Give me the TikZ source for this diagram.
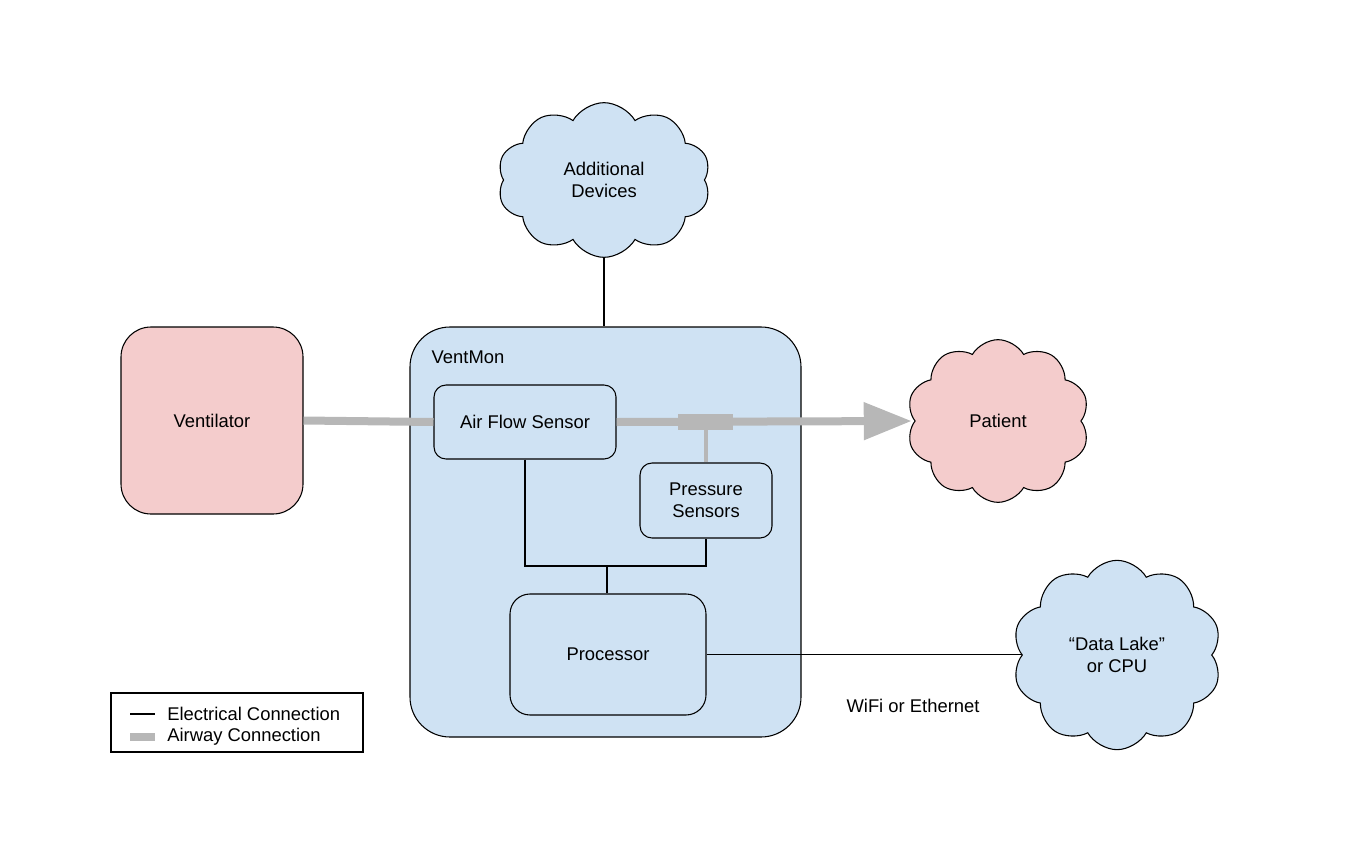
\documentclass[tikz,border=0pt]{standalone}
\usepackage{fontspec}
\setmainfont{Liberation Sans}
\usetikzlibrary{shapes.symbols,arrows.meta}
\definecolor{lblue}{HTML}{CFE2F3}
\definecolor{lpink}{HTML}{F4CCCC}
\definecolor{agray}{HTML}{B7B7B7}
\tikzset{
  box/.style={draw=black, line width=0.8pt, inner sep=0pt, align=center},
  cloudbox/.style={cloud, cloud puffs=10, cloud puff arc=120, cloud ignores aspect, draw=black, line width=0.8pt, inner sep=0pt, align=center},
  elec/.style={draw=black, line width=1.6pt},
  thinelec/.style={draw=black, line width=0.8pt},
  airway/.style={draw=agray, line width=6pt},
  every node/.style={font=\fontsize{13.8}{16.5}\selectfont}
}
\begin{document}
\begin{tikzpicture}[x=0.75pt,y=-0.75pt]
\useasboundingbox (0,0) rectangle (1351,849);
% clouds
\node[cloudbox, fill=lblue, minimum width=160pt, minimum height=116pt] (adddev) at (604,180) {Additional\\Devices};
\node[cloudbox, fill=lpink, minimum width=137pt, minimum height=122pt] (patient) at (998,421) {Patient};
\node[cloudbox, fill=lblue, minimum width=157pt, minimum height=142pt] (lake) at (1117,655) {``Data Lake''\\or CPU};
% boxes
\node[box, fill=lpink, rounded corners=22.5pt, minimum width=136.5pt, minimum height=140.25pt] (vent) at (212,420.5) {Ventilator};
\node[box, fill=lblue, rounded corners=30pt, minimum width=293.25pt, minimum height=307.5pt] (vm) at (605.5,532) {};
\node[anchor=west] (vmlabel) at (427,357) {VentMon};
\node[box, fill=lblue, rounded corners=9pt, minimum width=136.5pt, minimum height=55.5pt] (afs) at (525,422) {Air Flow Sensor};
\node[box, fill=lblue, rounded corners=9pt, minimum width=99pt, minimum height=56.25pt] (ps) at (706,500.5) {Pressure\\Sensors};
\node[box, fill=lblue, rounded corners=15pt, minimum width=147pt, minimum height=90.75pt] (proc) at (608,654.5) {Processor};
% connections
\draw[thinelec] (adddev.south) -- (adddev.south |- vm.north);
\draw[airway] (vent.east) -- (afs.west);
\draw[airway, shorten >=2pt, -{Triangle[length=36pt,width=27pt]}] (afs.east) -- (patient.west);
\node[fill=agray, inner sep=0pt, minimum width=41.25pt, minimum height=12pt] (tee) at (705.5,422) {};
\draw[draw=agray, line width=3pt] (tee.south) -- (tee.south |- ps.north);
\coordinate (j) at (607,566);
\draw[elec] (afs.south) -- (afs.south |- j) -- (ps.south |- j) -- (ps.south);
\draw[elec] (j) -- (j |- proc.north);
\draw[thinelec] (proc.east) -- (proc.east -| lake.west);
\node (wifi) at (913,706) {WiFi or Ethernet};
% legend
\node[draw=black, line width=0.8pt, minimum width=189pt, minimum height=44.25pt, inner sep=0pt] (legend) at (237,722.5) {};
\coordinate (l1a) at (130,714); \coordinate (l1b) at (155,714);
\coordinate (l2a) at (130,737); \coordinate (l2b) at (155,737);
\draw[elec] (l1a) -- (l1b);
\draw[airway] (l2a) -- (l2b);
\node[anchor=west, inner sep=0pt] (lt1) at (167,714) {Electrical Connection};
\node[anchor=west, inner sep=0pt] (lt2) at (167,737) {Airway Connection};
\end{tikzpicture}
\end{document}
